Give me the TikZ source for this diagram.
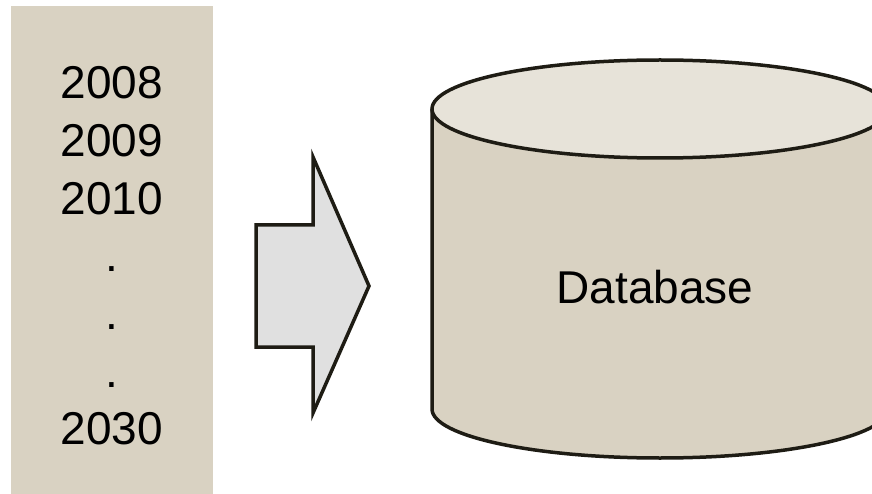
\documentclass[tikz,border=0pt]{standalone}
\usepackage{fontspec}
\setmainfont{Liberation Sans}
\definecolor{tan}{RGB}{217,210,194}
\definecolor{lighttan}{RGB}{231,227,217}
\definecolor{arrowgray}{RGB}{224,224,224}
\definecolor{outline}{RGB}{30,28,20}
\begin{document}
\begin{tikzpicture}[x=1pt, y=-1pt,
	every year/.style={anchor=base, font=\fontsize{46}{50}\selectfont},
	column/.style={fill=tan, inner sep=0pt},
	shape line/.style={draw=outline, line width=3.5pt, line join=miter}]
\clip (0,0) rectangle (872,494);

% year column
\node [column, minimum width=202pt, minimum height=488pt] (column) at (112,250) {};
\foreach \l [count=\i] in {2008,2009,2010,.,.,.,2030}
	\node [every year/.try] (year-\i) at (112,99+\i*57.6-57.6) {\l};

% block arrow
\draw [shape line, fill=arrowgray] (256,225) -- (313,225) -- (313,157) -- (369,286)
	-- (313,413) -- (313,347) -- (256,347) -- cycle;

% database cylinder
\draw [shape line, fill=tan] (432,109) -- (432,409)
	arc [start angle=180, end angle=0, x radius=228, y radius=49] -- (888,109);
\draw [shape line, fill=lighttan] (660,109) ellipse [x radius=228, y radius=49];
\node [font=\fontsize{46}{50}\selectfont] (db) at (655,287) {Database};

\end{tikzpicture}
\end{document}
